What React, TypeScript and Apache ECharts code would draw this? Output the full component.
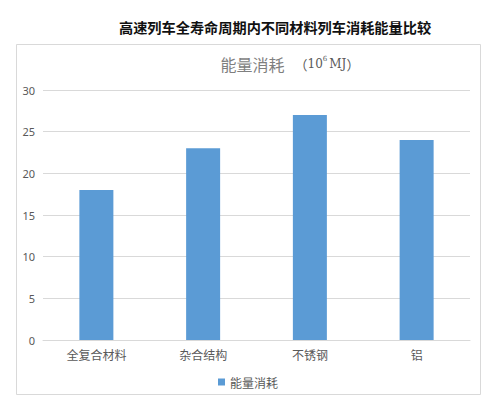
import React, { useEffect, useRef } from "react";
import * as echarts from "echarts";

const categories = ["全复合材料", "杂合结构", "不锈钢", "铝"];
const energyValues = [18, 23, 27, 24];
const yTicks = { min: 0, max: 30, interval: 5 };
const seriesName = "能量消耗";
const mainTitle = "高速列车全寿命周期内不同材料列车消耗能量比较";

export default function App() {
  const ref = useRef<HTMLDivElement>(null);
  useEffect(() => {
    document.body.style.margin = "0";
    const chart = echarts.init(ref.current!, null, { renderer: "svg" });
    chart.setOption({
      animation: false,
      backgroundColor: "#ffffff",
      title: [
        {
          text: mainTitle,
          left: 270,
          top: 15,
          textAlign: "center",
          textStyle: {
            fontFamily: "Noto Sans CJK SC",
            fontSize: 14.2,
            fontWeight: "bold",
            color: "#111111",
          },
        },
        {
          text: "{a|能量消耗}  {p|（}{b|10}{c|6}{b|MJ}{p|）}",
          left: 285,
          top: 50,
          textAlign: "center",
          textStyle: {
            fontWeight: "normal",
            rich: {
              a: { fontFamily: "Noto Sans CJK SC", fontSize: 16, color: "#7f7f7f", fontWeight: "normal" },
              p: { fontFamily: "Noto Sans CJK SC", fontSize: 13, color: "#595959", fontWeight: "normal" },
              b: { fontFamily: "DejaVu Serif", fontSize: 12, color: "#595959", fontWeight: "normal" },
              c: { fontFamily: "DejaVu Serif", fontSize: 7, color: "#595959", fontWeight: "normal", verticalAlign: "top", padding: [0, 2, 8, 0] },
            },
          },
        },
      ],
      graphic: [
        {
          type: "rect",
          shape: { x: 16.5, y: 44.5, width: 464, height: 350 },
          style: { fill: "none", stroke: "#d9d9d9", lineWidth: 1 },
          z: -1,
        },
      ],
      legend: {
        data: [seriesName],
        left: "center",
        top: 371,
        icon: "rect",
        itemWidth: 7,
        itemHeight: 7,
        itemGap: 4,
        textStyle: { fontFamily: "Noto Sans CJK SC", fontSize: 12, color: "#595959" },
      },
      grid: { left: 43, right: 26, top: 90, bottom: 60 },
      xAxis: {
        type: "category",
        data: categories,
        axisLine: { lineStyle: { color: "#d9d9d9" } },
        axisTick: { show: false },
        axisLabel: { color: "#595959", fontSize: 12, margin: 8, fontFamily: "Noto Sans CJK SC" },
      },
      yAxis: {
        type: "value",
        min: yTicks.min,
        max: yTicks.max,
        interval: yTicks.interval,
        axisLine: { show: false },
        axisTick: { show: false },
        axisLabel: { color: "#595959", fontSize: 11, margin: 8, fontFamily: "Noto Sans" },
        splitLine: { lineStyle: { color: "#d9d9d9" } },
      },
      series: [
        {
          name: seriesName,
          type: "bar",
          data: energyValues,
          barWidth: 34,
          itemStyle: { color: "#5b9bd5" },
        },
      ],
    });
    return () => chart.dispose();
  }, []);
  return <div ref={ref} style={{ width: 496, height: 400 }} />;
}
